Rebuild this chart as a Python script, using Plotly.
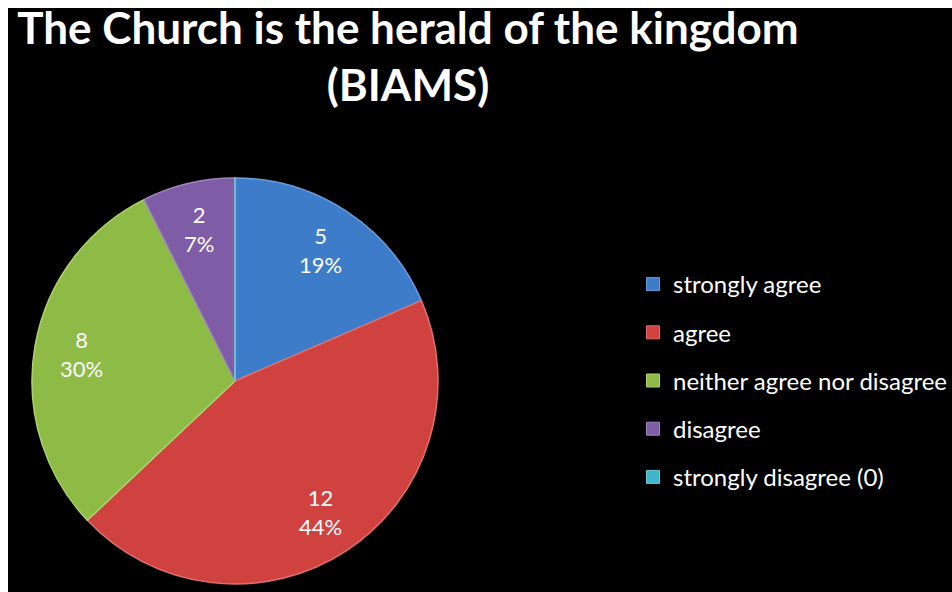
import math
import plotly.graph_objects as go

# Survey responses
categories = ["strongly agree", "agree", "neither agree nor disagree",
              "disagree", "strongly disagree (0)"]
counts = [5, 12, 8, 2, 0]

slice_colors = ["#3D7CC9", "#CF423F", "#8DBB45", "#7E5CA6", "#3FB5CC"]
edge_colors = ["#6A9DDB", "#E0706C", "#AED26E", "#9F85C0", "#6CCADB"]

W, H = 952, 592
FONT = "Lato"

fig = go.Figure()

# Pie: clockwise from 12 o'clock
cx, cy, r = 235, 381, 203
fig.add_trace(go.Pie(
    labels=categories,
    values=counts,
    sort=False,
    direction="clockwise",
    rotation=0,
    marker=dict(colors=slice_colors, line=dict(color=edge_colors, width=1.5)),
    textinfo="none",
    showlegend=False,
    hoverinfo="label+value+percent",
    domain=dict(x=[(cx - r) / W, (cx + r) / W],
                y=[(H - cy - r) / H, (H - cy + r) / H]),
))

# Count and rounded share, placed along each slice's bisector
total = sum(counts)
label_r = 0.77 * r
annotations = []
cum = 0
for v in counts:
    if v > 0:
        a = math.radians((cum + v / 2) / total * 360)
        px = cx + label_r * math.sin(a)
        py = cy - label_r * math.cos(a)
        annotations.append(dict(
            x=px / W, y=1 - py / H, xref="paper", yref="paper",
            text=f"{v}<br>{round(100 * v / total)}%", showarrow=False,
            xanchor="center", yanchor="middle", align="center",
            font=dict(family=FONT, size=22, color="white"),
        ))
    cum += v

# Legend entries (square swatches) with roomy spacing
for name, col, edge in zip(categories, slice_colors, edge_colors):
    fig.add_trace(go.Scatter(
        x=[None], y=[None], mode="markers", name=name,
        legendgroup=name,
        marker=dict(symbol="square", size=13, color=col,
                    line=dict(color=edge, width=1)),
    ))

fig.update_layout(
    width=W, height=H,
    margin=dict(l=0, r=0, t=0, b=0, autoexpand=False),
    paper_bgcolor="white",
    plot_bgcolor="rgba(0,0,0,0)",
    xaxis=dict(visible=False),
    yaxis=dict(visible=False),
    title=dict(
        text="The Church is the herald of the kingdom<br>(BIAMS)",
        x=408 / W, xanchor="center",
        y=1 - 44 / H, yanchor="top", yref="container",
        font=dict(family=FONT, size=44, color="white", weight="bold"),
    ),
    legend=dict(
        x=633 / W, xanchor="left",
        y=1 - 262 / H, yanchor="top",
        bgcolor="rgba(0,0,0,0)",
        font=dict(family=FONT, size=24, color="white"),
        tracegroupgap=14,
        itemclick=False, itemdoubleclick=False,
    ),
    annotations=annotations,
    shapes=[dict(
        type="rect", xref="paper", yref="paper", layer="below",
        x0=8 / W, x1=1, y0=0, y1=1 - 8 / H,
        fillcolor="black", line=dict(width=0),
    )],
)

fig.write_html("out.html")
